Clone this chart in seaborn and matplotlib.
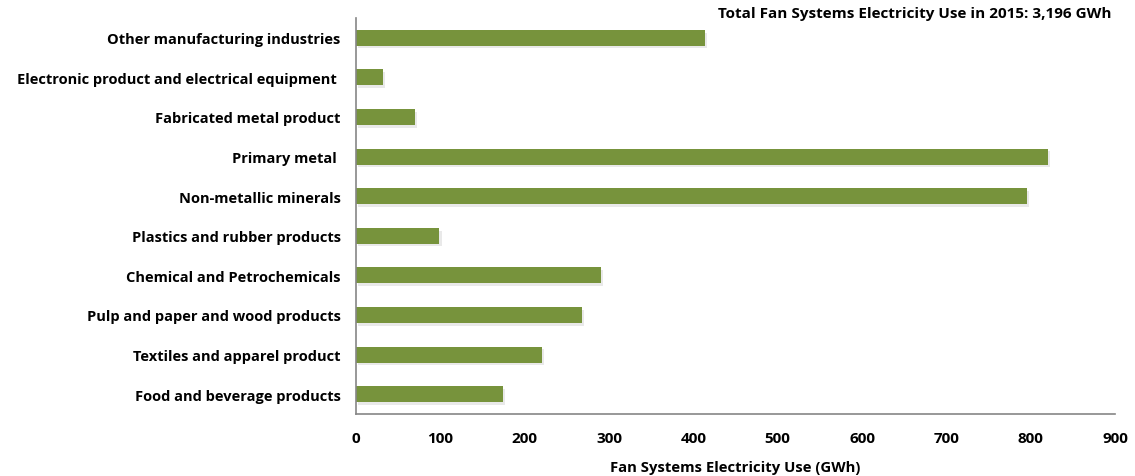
import matplotlib
matplotlib.use("Agg")
import matplotlib.pyplot as plt
import matplotlib.patheffects as pe
import seaborn as sns
import pandas as pd

categories = [
    "Other manufacturing industries",
    "Electronic product and electrical equipment ",
    "Fabricated metal product",
    "Primary metal ",
    "Non-metallic minerals",
    "Plastics and rubber products",
    "Chemical and Petrochemicals",
    "Pulp and paper and wood products",
    "Textiles and apparel product",
    "Food and beverage products",
]
usage_gwh = [414, 32, 70, 820, 796, 99, 291, 268, 220, 174]
x_ticks = [0, 100, 200, 300, 400, 500, 600, 700, 800, 900]
title_text = "Total Fan Systems Electricity Use in 2015: 3,196 GWh"
x_label = "Fan Systems Electricity Use (GWh)"

df = pd.DataFrame({"sector": categories, "gwh": usage_gwh})

sns.set_style("white")
plt.rcParams["font.family"] = ["Open Sans", "DejaVu Sans"]
plt.rcParams["font.weight"] = "bold"
plt.rcParams["text.color"] = "black"
plt.rcParams["xtick.color"] = "black"
plt.rcParams["ytick.color"] = "black"
plt.rcParams["axes.labelcolor"] = "black"

fig = plt.figure(figsize=(11.35, 4.77), dpi=100)
ax = fig.add_axes([356 / 1135, 1 - 415 / 477, (1115 - 356) / 1135, (415 - 19) / 477])

sns.barplot(data=df, x="gwh", y="sector", orient="h", color="#77933C",
            saturation=1, width=0.4, ax=ax)

shadow = [pe.SimplePatchShadow(offset=(1.5, -2), shadow_rgbFace="#b8b8b8", alpha=0.3),
          pe.Normal()]
for p in ax.patches:
    p.set_path_effects(shadow)
    p.set_edgecolor("none")

ax.set_xlim(0, 900)
ax.set_xticks(x_ticks)
ax.set_xticklabels([str(t) for t in x_ticks], fontsize=11, fontweight="bold")
ax.set_yticks(range(len(categories)))
ax.set_yticklabels(categories, fontsize=10.5, fontweight="bold")
ax.set_ylabel("")
ax.set_xlabel(x_label, fontsize=10.7, fontweight="bold", labelpad=11)

for side in ["top", "right"]:
    ax.spines[side].set_visible(False)
for side in ["left", "bottom"]:
    ax.spines[side].set_color("#868686")
    ax.spines[side].set_linewidth(1.2)

ax.tick_params(axis="x", direction="out", length=4, width=1, color="#868686",
               labelcolor="black", pad=8)
ax.tick_params(axis="y", length=0, pad=11, labelcolor="black")

fig.text(1112 / 1135, 1 - 14 / 477, title_text, ha="right", va="center",
         fontsize=11, fontweight="bold")

fig.savefig("out.png", dpi=100, facecolor="white")
